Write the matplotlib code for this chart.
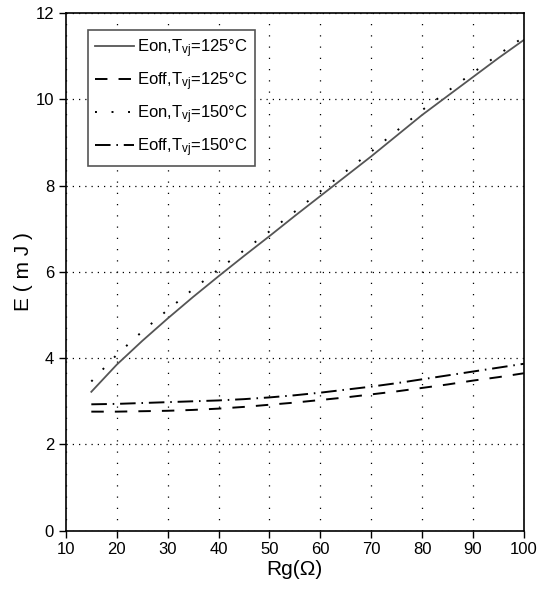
import matplotlib
matplotlib.use("Agg")
import matplotlib.pyplot as plt

fam = 'Liberation Sans'
plt.rcParams['font.family'] = [fam, 'DejaVu Sans']
plt.rcParams['mathtext.fontset'] = 'custom'
plt.rcParams['mathtext.rm'] = fam
plt.rcParams['mathtext.it'] = fam

rg = [15, 20, 25, 30, 35, 40, 45, 50, 55, 60, 65, 70, 75, 80, 85, 90, 95, 100]
eon_125 = [3.22, 3.85, 4.40, 4.92, 5.42, 5.90, 6.37, 6.83, 7.30, 7.76,
           8.22, 8.68, 9.16, 9.64, 10.08, 10.52, 10.96, 11.38]
eon_150 = [3.46, 4.08, 4.62, 5.12, 5.60, 6.06, 6.50, 6.94, 7.40, 7.87,
           8.33, 8.79, 9.27, 9.75, 10.19, 10.62, 11.04, 11.45]
eoff_125 = [2.76, 2.76, 2.77, 2.78, 2.80, 2.83, 2.87, 2.92, 2.97, 3.03,
            3.09, 3.16, 3.23, 3.31, 3.39, 3.48, 3.56, 3.65]
eoff_150 = [2.93, 2.94, 2.96, 2.98, 3.00, 3.02, 3.05, 3.09, 3.14, 3.20,
            3.27, 3.34, 3.42, 3.51, 3.60, 3.69, 3.78, 3.87]

labels = [r'Eon,T$_{\mathrm{vj}}$=125°C', r'Eoff,T$_{\mathrm{vj}}$=125°C',
          r'Eon,T$_{\mathrm{vj}}$=150°C', r'Eoff,T$_{\mathrm{vj}}$=150°C']

fig = plt.figure(figsize=(5.4, 6.03), dpi=100)
ax = fig.add_axes([0.122, 0.120, 0.848, 0.858])

ax.plot(rg, eon_125, color='#555555', lw=1.3, ls='-', label=labels[0])
ax.plot(rg, eoff_125, color='black', lw=1.4, ls=(0, (6.4, 5.7)), label=labels[1])
ax.plot(rg, eon_150, color='black', lw=1.4, ls=(0, (1, 7.5)), label=labels[2])
ax.plot(rg, eoff_150, color='black', lw=1.4, ls=(0, (8, 3, 0.8, 3)), label=labels[3])

ax.set_xlim(10, 100)
ax.set_ylim(0, 12)
ax.set_xticks(range(10, 101, 10))
ax.set_yticks(range(0, 13, 2))
ax.xaxis.grid(True, color='black', ls=(0, (1, 8)), lw=0.9)
ax.yaxis.grid(True, color='black', ls=(0, (1, 4)), lw=0.9)
ax.tick_params(direction='out', length=5, width=1, labelsize=12, colors='black')
for s in ax.spines.values():
    s.set_linewidth(1.2)

ax.set_xlabel('Rg(Ω)', fontsize=15, labelpad=2)
ax.set_ylabel('E ( m J )', fontsize=15, labelpad=2)

leg = ax.legend(loc='upper left', bbox_to_anchor=(0.048, 0.968), fontsize=12,
                frameon=True, fancybox=False, edgecolor='#555555', framealpha=1,
                handlelength=2.3, handletextpad=0.2, borderpad=0.45,
                labelspacing=0.62, borderaxespad=0)
leg.get_frame().set_linewidth(1.2)

fig.savefig('out.png', dpi=100)
